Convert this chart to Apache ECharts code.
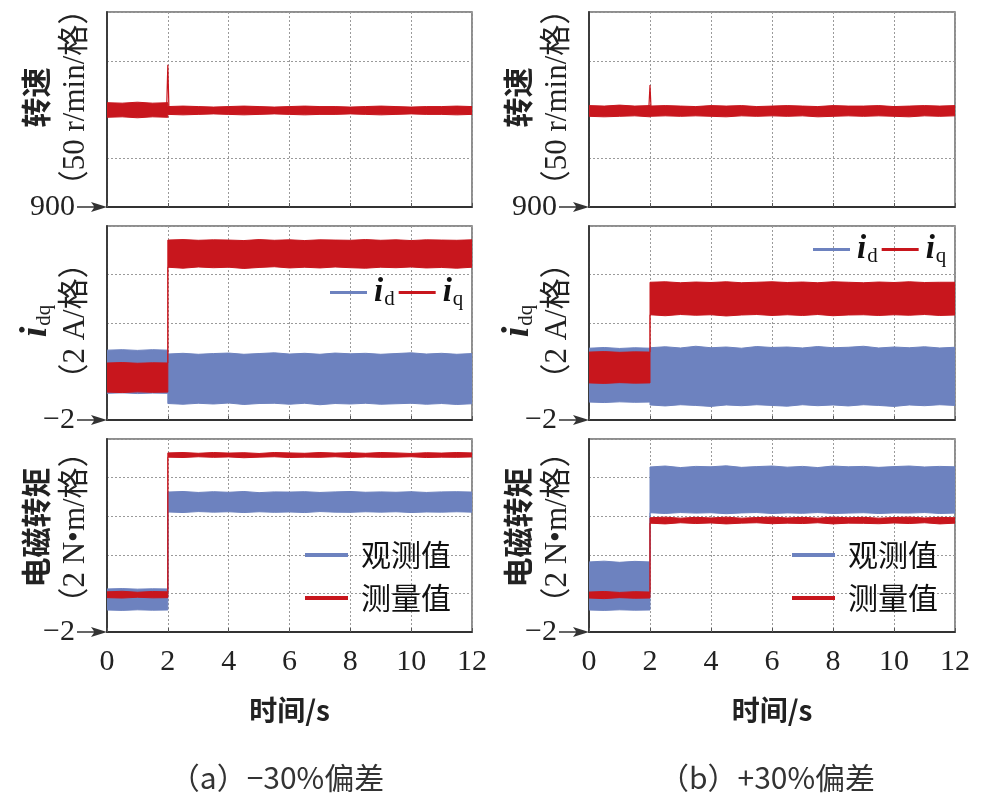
<!DOCTYPE html>
<html><head><meta charset="utf-8">
<script src="https://cdn.jsdelivr.net/npm/echarts@6/dist/echarts.min.js"></script>
<style>html,body{margin:0;padding:0;background:#fff}#c{width:983px;height:805px}</style>
</head><body><div id="c"></div>
<script>
// ---- data ----
const timeTicks = [0, 2, 4, 6, 8, 10, 12];
const T = [0,0.5,1,1.5,2, 2,2.5,3,3.5,4,4.5,5,5.5,6,6.5,7,7.5,8,8.5,9,9.5,10,10.5,11,11.5,12];

const speedTicks = [900, 950, 1000, 1050, 1100];
const idqTicks = [-2, 0, 2, 4, 6];
const teTicks = [-2, 0, 2, 4, 6, 8];

// speed band envelopes (r/min)
const spdHiA = [1007,1006.5,1007.5,1006.5,1007, 1003,1003.5,1003,1002.5,1003,1003.5,1003,1002.5,1003,1003.5,1003,1003,1002.5,1003,1003.5,1003,1002.5,1003,1003,1003.5,1003];
const spdLoA = [992,992.5,991.5,992.5,992, 995,994.5,995,995.5,995,994.5,995,995.5,995,994.5,995,995,995.5,995,994.5,995,995.5,995,995,994.5,995];
const spdHiB = [1004,1003.5,1004.5,1003.5,1004, 1003.5,1004,1003.5,1003,1004,1003.5,1004,1003,1003.5,1004,1003.5,1003,1004,1003.5,1003.5,1004,1003,1003.5,1004,1003.5,1004];
const spdLoB = [993,992.5,993,993.5,992.5, 993,993.5,993,993.5,993,992.5,993.5,993,993.5,993,993.5,992.5,993,993.5,993,993.5,993,992.5,993.5,993,993.5];
const spikeT = [1.96, 2, 2.04];
const spikeA = [1000, 1046, 996];
const spikeB = [1000, 1025, 997];

// dq currents (A)
const idHiA = [0.88,0.9,0.87,0.9,0.88, 0.72,0.75,0.71,0.74,0.76,0.71,0.74,0.77,0.72,0.75,0.71,0.76,0.73,0.75,0.71,0.74,0.77,0.72,0.75,0.71,0.74];
const idLoA = [-0.9,-0.88,-0.91,-0.89,-0.9, -1.32,-1.35,-1.31,-1.34,-1.3,-1.36,-1.32,-1.31,-1.35,-1.31,-1.37,-1.32,-1.34,-1.31,-1.35,-1.33,-1.31,-1.35,-1.32,-1.36,-1.33];
const iqHiA = [0.35,0.37,0.34,0.36,0.35, 5.42,5.44,5.41,5.43,5.42,5.4,5.44,5.41,5.43,5.4,5.43,5.42,5.41,5.44,5.41,5.43,5.4,5.43,5.42,5.41,5.43];
const iqLoA = [-0.85,-0.87,-0.84,-0.86,-0.85, 4.3,4.26,4.31,4.28,4.3,4.25,4.29,4.32,4.27,4.3,4.27,4.31,4.28,4.26,4.3,4.28,4.31,4.27,4.29,4.26,4.3];
const idHiB = [0.96,0.99,0.95,0.98,0.96, 0.98,1.02,0.97,1.04,0.98,1.01,0.96,1.03,0.99,1.01,0.97,1.03,0.98,1.0,1.04,0.97,1.01,0.98,1.02,0.97,1.0];
const idLoB = [-1.26,-1.28,-1.25,-1.27,-1.26, -1.38,-1.42,-1.37,-1.4,-1.44,-1.38,-1.41,-1.37,-1.4,-1.43,-1.37,-1.41,-1.38,-1.42,-1.37,-1.4,-1.44,-1.38,-1.41,-1.37,-1.4];
const iqHiB = [0.8,0.82,0.79,0.81,0.8, 3.68,3.7,3.66,3.69,3.67,3.7,3.66,3.68,3.7,3.67,3.69,3.66,3.7,3.68,3.66,3.69,3.67,3.7,3.67,3.68,3.68];
const iqLoB = [-0.47,-0.49,-0.46,-0.48,-0.47, 2.34,2.3,2.35,2.32,2.34,2.29,2.33,2.35,2.31,2.34,2.31,2.35,2.3,2.33,2.34,2.31,2.34,2.32,2.35,2.31,2.33];

// electromagnetic torque (N·m)
const obsHiA = [0.23,0.25,0.22,0.24,0.23, 5.25,5.28,5.23,5.27,5.24,5.28,5.22,5.26,5.25,5.27,5.23,5.26,5.28,5.24,5.26,5.24,5.27,5.23,5.26,5.27,5.25];
const obsLoA = [-0.86,-0.88,-0.85,-0.87,-0.86, 4.22,4.19,4.24,4.21,4.23,4.19,4.23,4.2,4.22,4.19,4.24,4.21,4.2,4.23,4.21,4.23,4.19,4.22,4.21,4.23,4.21];
const measHiA = [0.08,0.11,0.06,0.1,0.08, 7.28,7.3,7.26,7.3,7.27,7.29,7.25,7.3,7.28,7.26,7.3,7.27,7.29,7.26,7.3,7.28,7.25,7.29,7.27,7.3,7.28];
const measLoA = [-0.22,-0.24,-0.2,-0.23,-0.22, 7.06,7.04,7.08,7.05,7.07,7.03,7.06,7.08,7.04,7.06,7.05,7.08,7.04,7.07,7.05,7.06,7.08,7.04,7.06,7.05,7.07];
const obsHiB = [1.63,1.67,1.61,1.66,1.63, 6.55,6.6,6.52,6.58,6.56,6.61,6.53,6.57,6.6,6.54,6.58,6.52,6.6,6.56,6.58,6.53,6.57,6.6,6.55,6.58,6.56];
const obsLoB = [-0.86,-0.88,-0.85,-0.87,-0.86, 4.18,4.14,4.19,4.16,4.18,4.13,4.17,4.19,4.14,4.17,4.15,4.19,4.14,4.16,4.18,4.14,4.17,4.16,4.19,4.14,4.16];
const measHiB = [0.07,0.1,0.05,0.09,0.07, 3.92,3.95,3.9,3.94,3.91,3.95,3.9,3.93,3.95,3.91,3.94,3.9,3.95,3.92,3.94,3.9,3.93,3.95,3.91,3.94,3.92];
const measLoB = [-0.24,-0.27,-0.22,-0.25,-0.24, 3.64,3.6,3.66,3.62,3.65,3.6,3.64,3.66,3.61,3.64,3.62,3.66,3.6,3.64,3.63,3.61,3.65,3.62,3.66,3.6,3.64];

const captions = ['（a）−30%偏差', '（b）+30%偏差'];
const xName = '时间/s';
const yNames = ['{c|转速}\n{l|（50 r/min/格）}', '{it|i}{sub|dq}\n{l|（2 A/格）}', '{c|电磁转矩}\n{l|（2 N•m/格）}'];

// ---- styling ----
const RED = '#C8161D', BLUE = '#6D82BF';
const SERIF = 'Liberation Serif, "Noto Sans CJK SC", serif';
const CJK = '"Noto Sans CJK SC", sans-serif';
const ARROW = 'path://M4.3,0 L5.7,0 L5.7,17 L10,14 L5,30 L0,14 L4.3,17 Z';

const gridLefts = [107, 589], gridWidths = [365, 366];
const gridTops = [12, 226, 439], gridHeights = [195, 194, 193];
const yTicks = [speedTicks, idqTicks, teTicks];
const namePads = [[0, 0, 0, 24], [0, 0, 0, 4], [0, 0, 0, 16]];

const grids = [], xAxes = [], yAxes = [];
for (let c = 0; c < 2; c++) {
  for (let r = 0; r < 3; r++) {
    grids.push({left: gridLefts[c], width: gridWidths[c], top: gridTops[r], height: gridHeights[r],
      outerBoundsMode: 'none', containLabel: false,
      show: true, borderColor: '#6a6a6a', borderWidth: 1.5, backgroundColor: '#fff'});
    const gi = grids.length - 1;
    const ticks = yTicks[r];
    xAxes.push({
      type: 'value', gridIndex: gi, min: timeTicks[0], max: timeTicks[timeTicks.length - 1],
      interval: timeTicks[1] - timeTicks[0],
      axisLine: {show: true, onZero: false, lineStyle: {color: '#333', width: 1.8},
        symbol: [ARROW, 'none'], symbolSize: [10, 30], symbolOffset: [-15, 0]},
      axisTick: {show: true, inside: true, length: 4, lineStyle: {color: '#555'}},
      splitLine: {show: true, lineStyle: {color: '#9a9a9a', width: 1, type: [2, 2]}},
      axisLabel: {show: r === 2, fontFamily: SERIF, fontSize: 30, color: '#222', margin: 15},
      name: r === 2 ? xName : '', nameLocation: 'middle', nameGap: 64, nameMoveOverlap: false,
      nameTextStyle: {fontFamily: CJK, fontSize: 28, fontWeight: 'bold', color: '#222'}
    });
    yAxes.push({
      type: 'value', gridIndex: gi, min: ticks[0], max: ticks[ticks.length - 1], interval: ticks[1] - ticks[0],
      axisLine: {show: true, onZero: false, lineStyle: {color: '#333', width: 1.8}},
      axisTick: {show: false},
      splitLine: {show: true, lineStyle: {color: '#9a9a9a', width: 1, type: [2, 2]}},
      axisLabel: {
        show: true, margin: 32, fontFamily: SERIF, fontSize: 30, color: '#222',
        formatter: v => v === ticks[0] ? String(v).replace('-', '−') : ''
      },
      name: yNames[r], nameLocation: 'middle', nameRotate: 90, nameGap: 11, nameMoveOverlap: false,
      nameTextStyle: {
        color: '#222', padding: namePads[r],
        rich: {
          c: {fontFamily: CJK, fontSize: 30, fontWeight: 'bold', lineHeight: 40, color: '#222'},
          it: {fontFamily: SERIF, fontSize: 38, fontStyle: 'italic', fontWeight: 'bold', lineHeight: 40, color: '#222'},
          sub: {fontFamily: SERIF, fontSize: 21, lineHeight: 40, padding: [16, 0, 0, 1], color: '#222'},
          l: {fontFamily: SERIF, fontSize: 31, lineHeight: 40, color: '#222'}
        }
      }
    });
  }
}

function band(name, gi, hi, lo, color, z) {
  return {
    type: 'custom', name, xAxisIndex: gi, yAxisIndex: gi, z, clip: true,
    itemStyle: {color},
    data: T.map((x, i) => [x, lo[i], hi[i]]),
    encode: {x: 0, y: [1, 2]},
    renderItem(params, api) {
      if (params.dataIndex !== 0) return;
      const top = T.map((x, i) => api.coord([x, hi[i]]));
      const bot = T.map((x, i) => api.coord([x, lo[i]])).reverse();
      return {type: 'polygon', shape: {points: top.concat(bot)},
        style: {fill: color, stroke: color, lineWidth: 1}};
    }
  };
}
function spike(gi, vals) {
  return {type: 'line', name: 'spike', xAxisIndex: gi, yAxisIndex: gi, z: 6, showSymbol: false,
    data: spikeT.map((x, i) => [x, vals[i]]), lineStyle: {color: RED, width: 1.2}, itemStyle: {color: RED}};
}

const series = [
  band('speedA', 0, spdHiA, spdLoA, RED, 3), spike(0, spikeA),
  band('id', 1, idHiA, idLoA, BLUE, 3), band('iq', 1, iqHiA, iqLoA, RED, 4),
  band('观测值', 2, obsHiA, obsLoA, BLUE, 3), band('测量值', 2, measHiA, measLoA, RED, 4),
  band('speedB', 3, spdHiB, spdLoB, RED, 3), spike(3, spikeB),
  band('id', 4, idHiB, idLoB, BLUE, 3), band('iq', 4, iqHiB, iqLoB, RED, 4),
  band('观测值', 5, obsHiB, obsLoB, BLUE, 3), band('测量值', 5, measHiB, measLoB, RED, 4)
];

const dqRich = {
  i: {fontFamily: SERIF, fontSize: 33, fontStyle: 'italic', fontWeight: 'bold', color: '#111', padding: [0, 0, 0, 2]},
  s: {fontFamily: SERIF, fontSize: 21, color: '#111', padding: [14, 0, 0, 1]}
};
const dqFmt = n => n === 'id' ? '{i|i}{s|d}' : '{i|i}{s|q}';
function dqLegend(left, top) {
  return {data: [{name: 'id', icon: 'rect'}, {name: 'iq', icon: 'rect'}], left, top, orient: 'horizontal',
    itemWidth: 37, itemHeight: 3, itemGap: 4, padding: 0, selectedMode: false,
    formatter: dqFmt, textStyle: {rich: dqRich}};
}
function teLegend(left, top) {
  return {data: [{name: '观测值', icon: 'rect'}, {name: '测量值', icon: 'rect'}], left, top, orient: 'vertical',
    itemWidth: 43, itemHeight: 4, itemGap: 11, padding: 0, selectedMode: false,
    textStyle: {fontFamily: CJK, fontSize: 30, color: '#111', lineHeight: 32, padding: [0, 0, 0, 8]}};
}

const option = {
  animation: false,
  backgroundColor: '#fff',
  grid: grids, xAxis: xAxes, yAxis: yAxes, series,
  legend: [dqLegend(330, 276), dqLegend(813, 233), teLegend(305, 539), teLegend(792, 539)],
  title: [
    {text: captions[0], left: 272, top: 758, textAlign: 'center',
      textStyle: {fontFamily: CJK, fontSize: 30, fontWeight: 'normal', color: '#333'}},
    {text: captions[1], left: 762, top: 758, textAlign: 'center',
      textStyle: {fontFamily: CJK, fontSize: 30, fontWeight: 'normal', color: '#333'}}
  ]
};
const chart = echarts.init(document.getElementById('c'), null, {renderer: 'canvas'});
chart.setOption(option);
</script>
</body></html>
